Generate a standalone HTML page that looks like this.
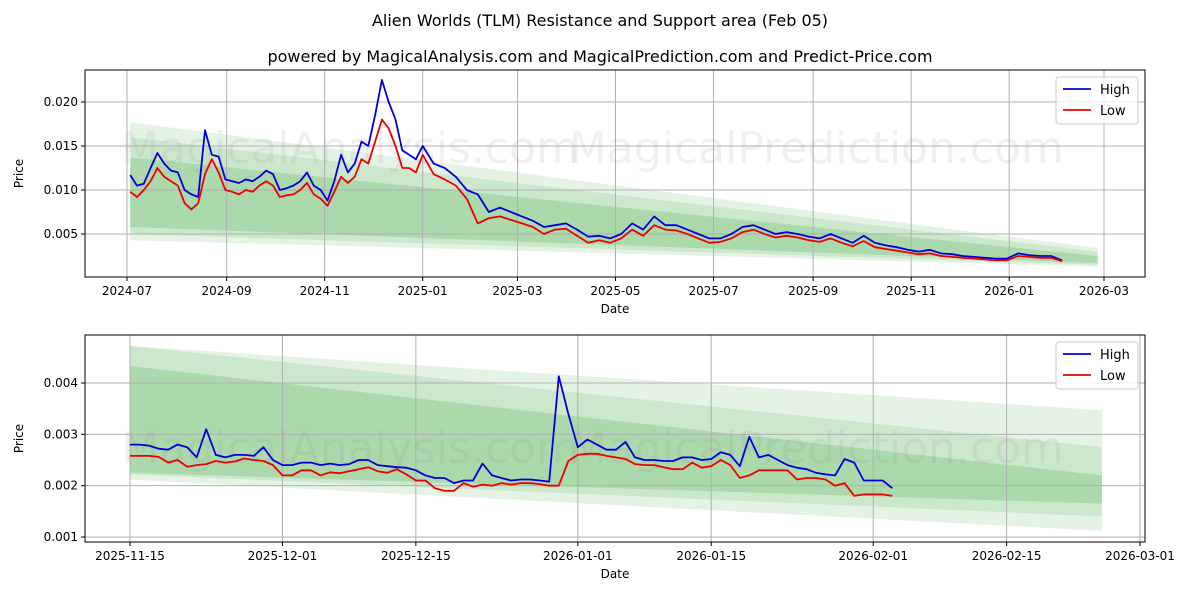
<!DOCTYPE html>
<html><head><meta charset="utf-8"><style>
body{margin:0;background:#fff;font-family:"Liberation Sans","DejaVu Sans",sans-serif}
svg text{font-family:"DejaVu Sans","Liberation Sans",sans-serif}
</style></head><body>
<svg id="c" width="1200" height="600">
<text x="600" y="26" text-anchor="middle" font-size="16">Alien Worlds (TLM) Resistance and Support area (Feb 05)</text>
<text x="600" y="62" text-anchor="middle" font-size="16">powered by MagicalAnalysis.com and MagicalPrediction.com and Predict-Price.com</text>
</svg>
<script>
// ---- top chart data ----
const topStart="2024-07-03", topSplit="2025-01-01", topEnd="2026-02-03";
const topHigh=[0.0117,0.0105,0.0107,0.0125,0.0142,0.0130,0.0122,0.0120,0.0100,0.0095,0.0092,0.0168,0.0140,0.0138,0.0112,0.0110,0.0108,0.0112,0.0110,0.0115,0.0122,0.0118,0.0100,0.0102,0.0105,0.0110,0.0120,0.0105,0.0100,0.0088,0.0110,0.0140,0.0120,0.0130,0.0155,0.0150,0.0185,0.0225,0.0200,0.0180,0.0145,0.0140,0.0135,0.0150,0.0130,0.0125,0.0115,0.0100,0.0095,0.0075,0.0080,0.0075,0.0070,0.0065,0.0058,0.0060,0.0062,0.0055,0.0047,0.0048,0.0045,0.0050,0.0062,0.0055,0.0070,0.0060,0.0060,0.0055,0.0050,0.0045,0.0045,0.0050,0.0058,0.0060,0.0055,0.0050,0.0052,0.0050,0.0047,0.0045,0.0050,0.0045,0.0040,0.0048,0.0040,0.0037,0.0035,0.0032,0.0030,0.0032,0.0028,0.0027,0.0025,0.0024,0.0023,0.0022,0.0022,0.0028,0.0026,0.0025,0.0025,0.0020];
const topLow=[0.0098,0.0092,0.0100,0.0110,0.0125,0.0115,0.0110,0.0105,0.0085,0.0078,0.0085,0.0118,0.0135,0.0120,0.0100,0.0098,0.0095,0.0100,0.0098,0.0105,0.0110,0.0105,0.0092,0.0094,0.0095,0.0100,0.0108,0.0095,0.0090,0.0082,0.0098,0.0115,0.0108,0.0115,0.0135,0.0130,0.0155,0.0180,0.0170,0.0150,0.0125,0.0125,0.0120,0.0140,0.0118,0.0112,0.0105,0.0090,0.0062,0.0068,0.0070,0.0066,0.0062,0.0058,0.0050,0.0055,0.0056,0.0048,0.0040,0.0043,0.0040,0.0045,0.0055,0.0048,0.0060,0.0055,0.0054,0.0050,0.0045,0.0040,0.0041,0.0045,0.0052,0.0055,0.0050,0.0046,0.0048,0.0046,0.0043,0.0041,0.0045,0.0040,0.0036,0.0042,0.0035,0.0033,0.0031,0.0029,0.0027,0.0028,0.0025,0.0024,0.0023,0.0022,0.0021,0.0020,0.0020,0.0025,0.0024,0.0023,0.0023,0.0019];
const topSplitIndex=43;
const topYTicks=[0.005,0.010,0.015,0.020];
const topXTicks=["2024-07-01","2024-09-01","2024-11-01","2025-01-01","2025-03-01","2025-05-01","2025-07-01","2025-09-01","2025-11-01","2026-01-01","2026-03-01"];
const topXLabels=["2024-07","2024-09","2024-11","2025-01","2025-03","2025-05","2025-07","2025-09","2025-11","2026-01","2026-03"];
const topBandDates=["2024-07-03","2026-02-25"];
const topBandOuterTop=[0.0177,0.0034], topBandOuterBot=[0.0043,0.0013];
const topBandMidTop=[0.0160,0.0030], topBandMidBot=[0.0050,0.0015];
const topBandInTop=[0.0137,0.0025], topBandInBot=[0.0058,0.0017];
// ---- bottom chart data ----
const botStart="2025-11-15", botEnd="2026-02-03";
const botHigh=[0.0028,0.0028,0.00278,0.00272,0.00270,0.00280,0.00275,0.00255,0.0031,0.0026,0.00255,0.0026,0.0026,0.00258,0.00275,0.0025,0.0024,0.0024,0.00245,0.00245,0.0024,0.00243,0.0024,0.00242,0.0025,0.0025,0.0024,0.00238,0.00236,0.00235,0.0023,0.0022,0.00215,0.00215,0.00205,0.0021,0.0021,0.00243,0.0022,0.00215,0.0021,0.00212,0.00212,0.0021,0.00208,0.00413,0.0034,0.00275,0.0029,0.0028,0.0027,0.0027,0.00285,0.00255,0.0025,0.0025,0.00248,0.00248,0.00255,0.00255,0.0025,0.00252,0.00265,0.0026,0.00238,0.00295,0.00255,0.0026,0.0025,0.0024,0.00235,0.00232,0.00225,0.00222,0.0022,0.00252,0.00245,0.0021,0.0021,0.0021,0.00195];
const botLow=[0.00258,0.00258,0.00258,0.00256,0.00245,0.0025,0.00237,0.0024,0.00242,0.00248,0.00245,0.00247,0.00253,0.0025,0.00248,0.0024,0.0022,0.0022,0.0023,0.0023,0.0022,0.00226,0.00224,0.00228,0.00232,0.00236,0.00228,0.00225,0.00232,0.00222,0.0021,0.0021,0.00195,0.0019,0.0019,0.00205,0.00198,0.00202,0.002,0.00205,0.00202,0.00205,0.00205,0.00203,0.002,0.002,0.00248,0.0026,0.00262,0.00262,0.00258,0.00255,0.00252,0.00242,0.0024,0.0024,0.00236,0.00232,0.00232,0.00245,0.00235,0.00238,0.0025,0.0024,0.00215,0.0022,0.0023,0.0023,0.0023,0.0023,0.00212,0.00215,0.00215,0.00212,0.002,0.00205,0.0018,0.00183,0.00183,0.00183,0.0018];
const botYTicks=[0.001,0.002,0.003,0.004];
const botXTicks=["2025-11-15","2025-12-01","2025-12-15","2026-01-01","2026-01-15","2026-02-01","2026-02-15","2026-03-01"];
const botBandDates=["2025-11-15","2026-02-25"];
const botBandOuterTop=[0.00472,0.00347], botBandOuterBot=[0.00212,0.00112];
const botBandMidTop=[0.00472,0.00275], botBandMidBot=[0.00222,0.00140];
const botBandInTop=[0.00433,0.00220], botBandInBot=[0.00225,0.00165];

const NS="http://www.w3.org/2000/svg", svg=document.getElementById('c');
function el(t,a,p){const e=document.createElementNS(NS,t);for(const k in a)e.setAttribute(k,a[k]);(p||svg).appendChild(e);return e;}
const D=s=>Date.parse(s+"T00:00:00Z")/864e5;

function dayOf(i,n,o){
  const a=D(o.s0),b=D(o.s1);
  if(o.split==null) return a+(b-a)*i/(n-1);
  const m=D(o.split),k=o.splitIdx;
  return i<=k ? a+(m-a)*i/k : m+(b-m)*(i-k)/(n-1-k);
}

function chart(o){
  const g=el('g',{});
  
  
  const X=d=>o.x0+(D(d)-D(o.d0))/(D(o.d1)-D(o.d0))*(o.x1-o.x0);
  const Xn=n=>o.x0+(n-D(o.d0))/(D(o.d1)-D(o.d0))*(o.x1-o.x0);
  const Y=v=>o.y0+(v-o.v0)/(o.v1-o.v0)*(o.y1-o.y0);
  const bands=[[o.oT,o.oB,0.13],[o.mT,o.mB,0.13],[o.iT,o.iB,0.2]];
  bands.forEach((b,i)=>{
    const xa=X(o.bd[0]),xb=X(o.bd[1]);
    const p=el('polygon',{points:`${xa},${Y(b[0][0])} ${xb},${Y(b[0][1])} ${xb},${Y(b[1][1])} ${xa},${Y(b[1][0])}`,fill:'#2ca02c','fill-opacity':b[2]},g);
    
    
  });
  o.yt.forEach(v=>{
    const y=Y(v);
    el('line',{x1:o.L,x2:o.R,y1:y,y2:y,stroke:'#b0b0b0','stroke-width':1},g);
    el('line',{x1:o.L-4,x2:o.L,y1:y,y2:y,stroke:'#000'},g);
    const t=el('text',{x:o.L-7,y:y+4,'text-anchor':'end','font-size':12},g);t.textContent=v.toFixed(3);
    
    
  });
  o.xt.forEach((d,i)=>{
    const x=X(d);
    el('line',{x1:x,x2:x,y1:o.T,y2:o.B,stroke:'#b0b0b0','stroke-width':1},g);
    el('line',{x1:x,x2:x,y1:o.B,y2:o.B+4,stroke:'#000'},g);
    const t=el('text',{x:x,y:o.B+18,'text-anchor':'middle','font-size':12},g);t.textContent=o.xl[i];
    
    
  });
  [[o.L+(o.R-o.L)*0.25,'MagicalAnalysis.com'],[o.L+(o.R-o.L)*0.69,'MagicalPrediction.com']].forEach(w=>{
    const t=el('text',{x:w[0],y:o.wy,'text-anchor':'middle','font-size':44,fill:'#888','fill-opacity':0.13},g);t.textContent=w[1];
    
    
  });
  [[o.hi,'#0000dd','high-line'],[o.lo,'#ee0000','low-line']].forEach(s=>{
    const n=s[0].length;
    const pts=s[0].map((v,i)=>Xn(dayOf(i,n,o)).toFixed(1)+','+Y(v).toFixed(1)).join(' ');
    const p=el('polyline',{points:pts,fill:'none',stroke:s[1],'stroke-width':1.8,'stroke-linejoin':'round'},g);
    
    
  });
  el('rect',{x:o.L,y:o.T,width:o.R-o.L,height:o.B-o.T,fill:'none',stroke:'#000','stroke-width':1},g);
  let t=el('text',{x:(o.L+o.R)/2,y:o.B+36,'text-anchor':'middle','font-size':12},g);t.textContent='Date';
  
  
  t=el('text',{x:0,y:0,'text-anchor':'middle','font-size':12,transform:`translate(${o.L-62},${(o.T+o.B)/2}) rotate(-90)`},g);t.textContent='Price';
  
  
  const lg=el('g',{},g);
  
  
  el('rect',{x:o.R-89,y:o.T+7,width:82,height:47,fill:'#fff','fill-opacity':0.8,stroke:'#ccc',rx:3},lg);
  [['High','#0000dd',22],['Low','#ee0000',43]].forEach(e=>{
    el('line',{x1:o.R-82,x2:o.R-54,y1:o.T+e[2]-3,y2:o.T+e[2]-3,stroke:e[1],'stroke-width':1.8},lg);
    const tt=el('text',{x:o.R-45,y:o.T+e[2]+2,'font-size':13},lg);tt.textContent=e[0];
    
    
  });
}
chart({name:'top-chart',L:85,R:1145,T:70,B:277,x0:127,x1:1104,d0:"2024-07-01",d1:"2026-03-01",y0:278,y1:102,v0:0,v1:0.020,
  yt:topYTicks,xt:topXTicks,xl:topXLabels,bd:topBandDates,oT:topBandOuterTop,oB:topBandOuterBot,mT:topBandMidTop,mB:topBandMidBot,iT:topBandInTop,iB:topBandInBot,
  hi:topHigh,lo:topLow,s0:topStart,s1:topEnd,split:topSplit,splitIdx:topSplitIndex,wy:163});
chart({name:'bottom-chart',L:85,R:1145,T:335,B:542,x0:130,x1:1140,d0:"2025-11-15",d1:"2026-03-01",y0:537,y1:383,v0:0.001,v1:0.004,
  yt:botYTicks,xt:botXTicks,xl:botXTicks,bd:botBandDates,oT:botBandOuterTop,oB:botBandOuterBot,mT:botBandMidTop,mB:botBandMidBot,iT:botBandInTop,iB:botBandInBot,
  hi:botHigh,lo:botLow,s0:botStart,s1:botEnd,split:null,wy:463});
</script>
</body></html>
